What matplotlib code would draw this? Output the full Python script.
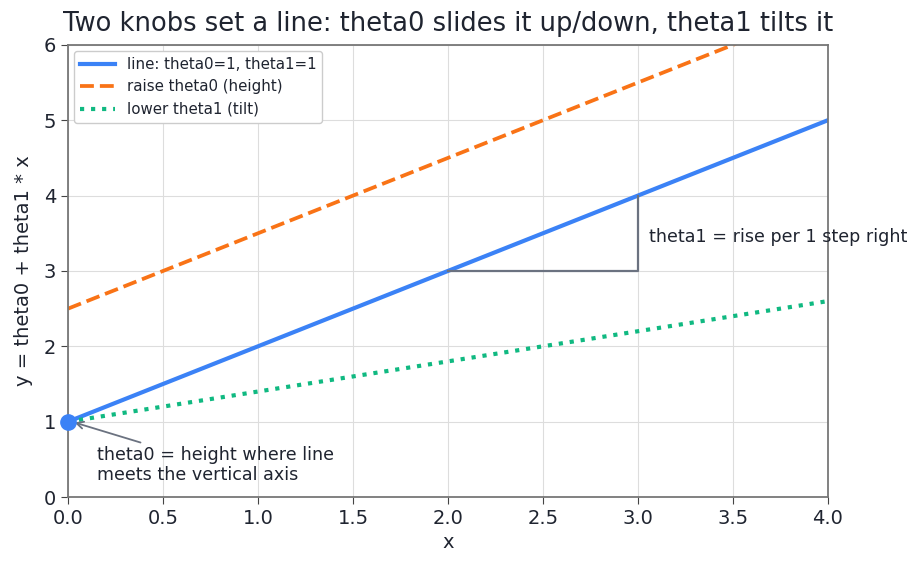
import numpy as np
import matplotlib.pyplot as plt

# data
x_vals = [0.0, 4.0]
base_theta0, base_theta1 = 1.0, 1.0
high_theta0, high_theta1 = 2.5, 1.0
tilt_theta0, tilt_theta1 = 1.0, 0.4
slope_x = [2.0, 3.0, 3.0]
slope_y = [3.0, 3.0, 4.0]

x = np.array(x_vals)
txt = '#1f2430'

fig = plt.figure(figsize=(9.22, 5.73), dpi=100)
ax = fig.add_axes([0.0738, 0.1326, 0.824, 0.789])

ax.plot(x, base_theta0 + base_theta1 * x, color='#3b82f6', lw=3,
        label='line: theta0=1, theta1=1')
ax.plot(x, high_theta0 + high_theta1 * x, color='#f97316', lw=2.7, ls='--',
        label='raise theta0 (height)')
ax.plot(x, tilt_theta0 + tilt_theta1 * x, color='#10b981', lw=3, ls=':',
        label='lower theta1 (tilt)')

ax.plot(slope_x, slope_y, color='#6b7280', lw=1.6)
ax.text(3.06, 3.45, 'theta1 = rise per 1 step right', fontsize=12.6,
        va='center', ha='left', color=txt, clip_on=False)

ax.plot([0], [base_theta0], 'o', color='#3b82f6', ms=11, clip_on=False, zorder=5)
ax.annotate('theta0 = height where line\nmeets the vertical axis',
            xy=(0.02, 1.0), xytext=(0.15, 0.17), fontsize=12.6, color=txt,
            ha='left', va='bottom', linespacing=1.15,
            arrowprops=dict(arrowstyle='->', color='#6b7280', lw=1.3))

ax.set_xlim(0, 4)
ax.set_ylim(0, 6)
ax.set_xticks(np.arange(0, 4.01, 0.5))
ax.set_yticks(np.arange(0, 7, 1))
ax.grid(True, color='#dddddd', lw=0.8)
ax.set_axisbelow(True)
for s in ax.spines.values():
    s.set_color('#777777')
    s.set_linewidth(1.3)
ax.tick_params(labelsize=14, color='#444444', labelcolor=txt, length=5)
ax.set_xlabel('x', fontsize=14, color=txt)
ax.set_ylabel('y = theta0 + theta1 * x', fontsize=14, color=txt, labelpad=8)
ax.set_title('Two knobs set a line: theta0 slides it up/down, theta1 tilts it',
             fontsize=18.5, color=txt, pad=10)
ax.legend(loc='upper left', fontsize=10.8, framealpha=1, edgecolor='#cccccc',
          handlelength=2.3, labelcolor=txt, borderaxespad=0.4)

fig.savefig('out.png', dpi=100)
